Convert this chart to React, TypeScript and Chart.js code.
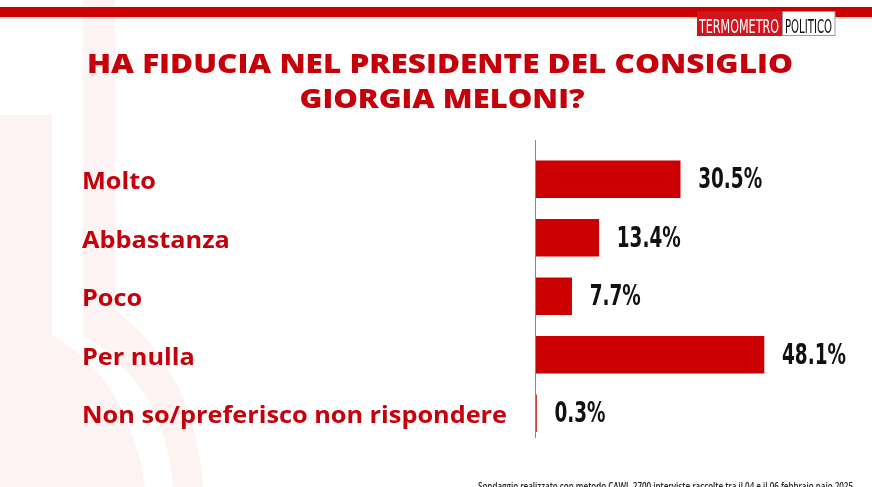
import React, { useEffect, useRef } from "react";
import { Chart, registerables } from "chart.js";

Chart.register(...registerables);

const categories = [
  "Molto",
  "Abbastanza",
  "Poco",
  "Per nulla",
  "Non so/preferisco non rispondere",
];
const values = [30.5, 13.4, 7.7, 48.1, 0.3];
const valueLabels = ["30.5%", "13.4%", "7.7%", "48.1%", "0.3%"];
const titleLines = ["HA FIDUCIA NEL PRESIDENTE DEL CONSIGLIO", "GIORGIA MELONI?"];
const footnote =
  "Sondaggio realizzato con metodo CAWI, 2700 interviste raccolte tra il 04 e il 06 febbraio naio 2025";

const RED = "#cc0000";
const TEXT_RED = "#c5000b";
const W = 872;
const H = 487;

function fitText(
  ctx: CanvasRenderingContext2D,
  text: string,
  cx: number,
  baseline: number,
  font: string,
  targetW: number,
  align: "left" | "center",
  color: string
) {
  ctx.save();
  ctx.font = font;
  const w = ctx.measureText(text).width;
  const sx = targetW / w;
  ctx.fillStyle = color;
  ctx.textBaseline = "alphabetic";
  ctx.textAlign = "left";
  const x0 = align === "center" ? cx - targetW / 2 : cx;
  ctx.translate(x0, baseline);
  ctx.scale(sx, 1);
  ctx.fillText(text, 0, 0);
  ctx.restore();
}

const backgroundPlugin = {
  id: "bgDeco",
  beforeDraw(chart: any) {
    const ctx = chart.ctx as CanvasRenderingContext2D;
    ctx.save();
    ctx.fillStyle = "#ffffff";
    ctx.fillRect(0, 0, W, H);
    ctx.fillStyle = "#fdf3f3";
    // left block
    ctx.beginPath();
    ctx.moveTo(0, 115);
    ctx.lineTo(52, 115);
    ctx.lineTo(52, 335);
    ctx.quadraticCurveTo(130, 380, 145, 487);
    ctx.lineTo(0, 487);
    ctx.closePath();
    ctx.fill();
    // curved strip
    ctx.beginPath();
    ctx.moveTo(83, 0);
    ctx.lineTo(115, 0);
    ctx.lineTo(115, 310);
    ctx.quadraticCurveTo(195, 370, 203, 487);
    ctx.lineTo(173, 487);
    ctx.quadraticCurveTo(165, 385, 83, 335);
    ctx.closePath();
    ctx.fill();
    ctx.restore();
  },
  afterDraw(chart: any) {
    const ctx = chart.ctx as CanvasRenderingContext2D;
    ctx.save();
    // top band with shadow
    ctx.fillStyle = "rgba(0,0,0,0.12)";
    ctx.fillRect(0, 17, W, 2);
    ctx.fillStyle = RED;
    ctx.fillRect(0, 7, W, 10);
    // logo
    ctx.fillStyle = "#d2141e";
    ctx.fillRect(697, 11, 85, 25);
    ctx.fillStyle = "#ffffff";
    ctx.fillRect(782, 11, 53, 25);
    ctx.strokeStyle = "#9a9a9a";
    ctx.lineWidth = 1;
    ctx.strokeRect(782.5, 11.5, 52.5, 24);
    fitText(ctx, "TERMOMETRO", 699, 33, "20px 'Liberation Sans Narrow', 'DejaVu Sans Condensed', sans-serif", 80, "left", "#ffffff");
    fitText(ctx, "POLITICO", 785, 33, "20px 'Liberation Sans Narrow', 'DejaVu Sans Condensed', sans-serif", 47, "left", "#111111");
    // title
    fitText(ctx, titleLines[0], 440, 73, "800 26px 'Open Sans', sans-serif", 706, "center", TEXT_RED);
    fitText(ctx, titleLines[1], 442, 108, "800 26px 'Open Sans', sans-serif", 285, "center", TEXT_RED);
    // footnote (cut off by page bottom)
    fitText(ctx, footnote, 478, 490, "600 10px 'Open Sans', sans-serif", 375, "left", "#222222");
    // category labels, placed by the y scale
    const yScale = chart.scales.y;
    const labFont = "bold 23px 'Open Sans', sans-serif";
    ctx.font = labFont;
    const longest = ctx.measureText(categories[4]).width;
    const lsx = 425 / longest;
    categories.forEach((c, i) => {
      ctx.save();
      ctx.font = labFont;
      ctx.fillStyle = TEXT_RED;
      ctx.textAlign = "left";
      ctx.textBaseline = "alphabetic";
      ctx.translate(82, yScale.getPixelForValue(i) + 10);
      ctx.scale(lsx, 1);
      ctx.fillText(c, 0, 0);
      ctx.restore();
    });
    // axis line
    ctx.strokeStyle = "#8a8a8a";
    ctx.lineWidth = 1;
    ctx.beginPath();
    const x = Math.round(chart.scales.x.getPixelForValue(0)) + 0.5;
    ctx.moveTo(x, 140);
    ctx.lineTo(x, 438);
    ctx.stroke();
    // value labels
    const meta = chart.getDatasetMeta(0);
    const font = "bold 29px 'Liberation Sans Narrow', 'DejaVu Sans Condensed', sans-serif";
    ctx.font = font;
    const ref = ctx.measureText("30.5%").width;
    const sx = 64 / ref;
    meta.data.forEach((bar: any, i: number) => {
      ctx.save();
      ctx.font = font;
      ctx.fillStyle = "#111111";
      ctx.textAlign = "left";
      ctx.textBaseline = "alphabetic";
      ctx.translate(bar.x + 18, bar.y + 9);
      ctx.scale(sx, 1);
      ctx.fillText(valueLabels[i], 0, 0);
      ctx.restore();
    });
    ctx.restore();
  },
};

export default function App() {
  const ref = useRef<HTMLCanvasElement | null>(null);
  useEffect(() => {
    if (!ref.current) return;
    const max = 60;
    const pxPer = 4.76;
    const chart = new Chart(ref.current, {
      type: "bar",
      data: {
        labels: categories,
        datasets: [
          {
            data: values,
            backgroundColor: RED,
            borderWidth: 0,
            barThickness: 37,
          },
        ],
      },
      options: {
        indexAxis: "y",
        animation: false,
        responsive: false,
        maintainAspectRatio: false,
        layout: {
          padding: {
            left: 82,
            right: W - 535 - max * pxPer,
            top: 150,
            bottom: H - 150 - 292.5,
          },
        },
        plugins: {
          legend: { display: false },
          tooltip: { enabled: false },
          title: { display: false },
        },
        scales: {
          x: {
            display: false,
            min: 0,
            max: max,
          },
          y: {
            display: true,
            grid: { display: false },
            border: { display: false },
            afterFit: (scale: any) => {
              scale.width = 535 - 82;
            },
            ticks: { display: false },
          },
        },
      },
      plugins: [backgroundPlugin],
    });
    return () => chart.destroy();
  }, []);
  return (
    <div style={{ position: "fixed", left: 0, top: 0, width: W, height: H, background: "#fff" }}>
      <canvas ref={ref} width={W} height={H} style={{ width: W, height: H, display: "block" }} />
    </div>
  );
}
